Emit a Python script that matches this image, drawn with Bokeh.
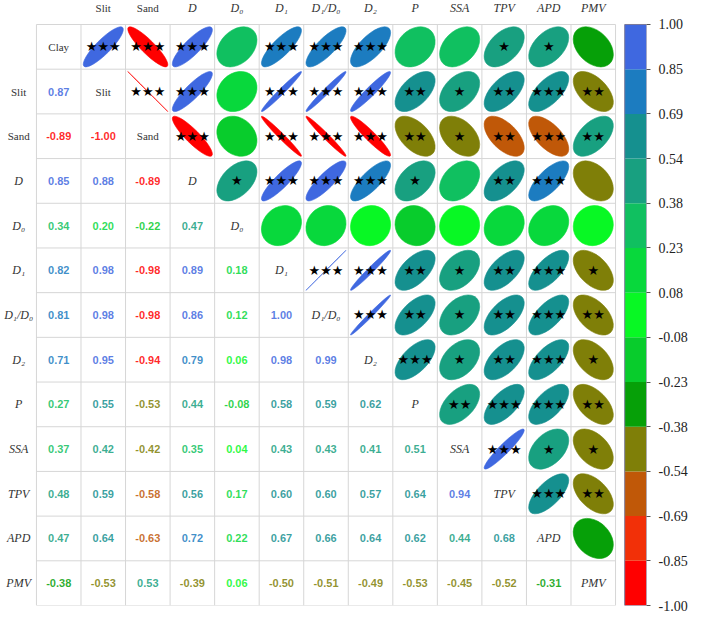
import numpy as np
from bokeh.plotting import figure
from bokeh.models import Range1d, LinearAxis, FixedTicker, PrintfTickFormatter, ColumnDataSource
from bokeh.core.properties import value
from bokeh.embed import file_html
from bokeh.resources import INLINE

# ---------------- data ----------------
labels = ["Clay", "Slit", "Sand", "D", "D\u2080", "D\u2081", "D\u2081/D\u2080", "D\u2082",
          "P", "SSA", "TPV", "APD", "PMV"]
italic = [False, False, False, True, True, True, True, True, True, True, True, True, True]

lower = [
    [],
    [0.87],
    [-0.89, -1.00],
    [0.85, 0.88, -0.89],
    [0.34, 0.20, -0.22, 0.47],
    [0.82, 0.98, -0.98, 0.89, 0.18],
    [0.81, 0.98, -0.98, 0.86, 0.12, 1.00],
    [0.71, 0.95, -0.94, 0.79, 0.06, 0.98, 0.99],
    [0.27, 0.55, -0.53, 0.44, -0.08, 0.58, 0.59, 0.62],
    [0.37, 0.42, -0.42, 0.35, 0.04, 0.43, 0.43, 0.41, 0.51],
    [0.48, 0.59, -0.58, 0.56, 0.17, 0.60, 0.60, 0.57, 0.64, 0.94],
    [0.47, 0.64, -0.63, 0.72, 0.22, 0.67, 0.66, 0.64, 0.62, 0.44, 0.68],
    [-0.38, -0.53, 0.53, -0.39, 0.06, -0.50, -0.51, -0.49, -0.53, -0.45, -0.52, -0.31],
]

# significance stars, upper triangle, row i -> columns i+1 .. n-1
stars = [
    ["***", "***", "***", "", "***", "***", "***", "", "", "*", "*", ""],
    ["***", "***", "", "***", "***", "***", "**", "*", "**", "***", "**"],
    ["***", "", "***", "***", "***", "**", "*", "**", "***", "**"],
    ["*", "***", "***", "***", "*", "", "**", "***", ""],
    ["", "", "", "", "", "", "", ""],
    ["***", "***", "**", "*", "**", "***", "*"],
    ["***", "**", "*", "**", "***", "**"],
    ["***", "*", "**", "***", "*"],
    ["**", "***", "***", "**"],
    ["***", "*", "*"],
    ["***", "**"],
    [""],
]

# colour bands from -1.00 to 1.00
palette = ["#FF0000", "#F23008", "#C05808", "#7F7F08", "#06A008", "#08CC2C",
           "#08F824", "#08D83C", "#10C060", "#18A080", "#15908F", "#1C7CC0", "#3F68E0"]
n_bands = len(palette)
edges = np.linspace(-1, 1, n_bands + 1)

n = len(labels)


def band_color(r):
    k = int(np.floor((r + 1) / (2 / n_bands) + 1e-9))
    return palette[min(n_bands - 1, max(0, k))]


R = np.eye(n)
for i, row in enumerate(lower):
    for j, v in enumerate(row):
        R[i, j] = v
        R[j, i] = v

# ---------------- figure ----------------
top_pad = 0.537
x_range = Range1d(-0.807, n + 0.695)
y_range = Range1d(0, n + top_pad)

p = figure(width=690, height=615, x_range=x_range, y_range=y_range,
           x_axis_location=None, y_axis_location=None,
           toolbar_location=None, output_backend="svg",
           min_border_left=0, min_border_top=0, min_border_bottom=10, min_border_right=43)
p.grid.grid_line_color = None
p.outline_line_color = None
p.background_fill_color = "white"
p.border_fill_color = "white"
p.extra_y_ranges = {"cb": Range1d(-1, 1 + 2 * top_pad / n)}

# cell borders
ks = np.arange(n + 1)
p.segment(x0=ks, y0=np.zeros(n + 1), x1=ks, y1=np.full(n + 1, n), line_color="#D6D6D6", line_width=1)
p.segment(x0=np.zeros(n + 1), y0=ks, x1=np.full(n + 1, n), y1=ks, line_color="#D6D6D6", line_width=1)

# lower triangle numbers
num = dict(x=[], y=[], t=[], c=[])
for i, row in enumerate(lower):
    for j, v in enumerate(row):
        num["x"].append(j + 0.5)
        num["y"].append(n - i - 0.5)
        num["t"].append("%.2f" % v)
        num["c"].append(band_color(v))
p.text(x="x", y="y", text="t", text_color="c", source=ColumnDataSource(num),
       text_font=value("Liberation Sans"), text_font_style="bold", text_font_size="11px",
       text_align="center", text_baseline="middle", text_alpha=0.85)

# upper triangle ellipses and stars
s = 0.45
ell = dict(x=[], y=[], w=[], h=[], a=[], c=[])
st = dict(x=[], y=[], t=[])
for i in range(n):
    for k, j in enumerate(range(i + 1, n)):
        r = R[i, j]
        ell["x"].append(j + 0.5)
        ell["y"].append(n - i - 0.5)
        ell["w"].append(2 * s * np.sqrt(1 + abs(r)))
        ell["h"].append(max(2 * s * np.sqrt(max(0.0, 1 - abs(r))), 0.004))
        ell["a"].append(np.pi / 4 if r >= 0 else -np.pi / 4)
        ell["c"].append(band_color(r))
        mark = stars[i][k]
        if mark:
            st["x"].append(j + 0.5)
            st["y"].append(n - i - 0.5)
            st["t"].append("\u2605" * len(mark))
p.ellipse(x="x", y="y", width="w", height="h", angle="a", source=ColumnDataSource(ell),
          fill_color="c", line_color="c", line_alpha=0.6, line_width=1)
p.text(x="x", y="y", text="t", source=ColumnDataSource(st), text_color="black",
       text_font=value("DejaVu Sans"), text_font_size="13px",
       text_align="center", text_baseline="middle")

# labels: diagonal, top, left
fstyle = ["italic" if f else "normal" for f in italic]
fsize = ["12px" if f else "11px" for f in italic]
diag = dict(x=[i + 0.5 for i in range(n)], y=[n - i - 0.5 for i in range(n)],
            t=labels, fs=fstyle, sz=fsize)
top = dict(x=[j + 0.5 for j in range(1, n)], y=[n + 0.36] * (n - 1),
           t=labels[1:], fs=fstyle[1:], sz=fsize[1:])
left = dict(x=[-0.40] * (n - 1), y=[n - i - 0.5 for i in range(1, n)],
            t=labels[1:], fs=fstyle[1:], sz=fsize[1:])
for d in (diag, top, left):
    p.text(x="x", y="y", text="t", source=ColumnDataSource(d), text_color="#333333",
           text_font=value("Liberation Serif"), text_font_style="fs", text_font_size="sz",
           text_align="center", text_baseline="middle")

# colour bar
cb_left, cb_right = n + 0.206, n + 0.695
p.quad(left=cb_left, right=cb_right, bottom=edges[:-1], top=edges[1:],
       fill_color=palette, line_color=None, y_range_name="cb")
p.quad(left=[cb_left], right=[cb_right], bottom=[edges[0]], top=[edges[-1]],
       fill_color=None, line_color="#7A7A9A", line_width=1, y_range_name="cb")

cb_axis = LinearAxis(y_range_name="cb", ticker=FixedTicker(ticks=list(edges)),
                     formatter=PrintfTickFormatter(format="%.2f"))
cb_axis.axis_line_color = None
cb_axis.major_tick_line_color = "#555555"
cb_axis.major_tick_in = 0
cb_axis.major_tick_out = 4
cb_axis.minor_tick_line_color = None
cb_axis.major_label_standoff = 8
cb_axis.major_label_text_font = "Liberation Serif"
cb_axis.major_label_text_font_size = "14px"
cb_axis.major_label_text_color = "#222222"
p.add_layout(cb_axis, "right")

open("out.html", "w").write(file_html(p, INLINE))
